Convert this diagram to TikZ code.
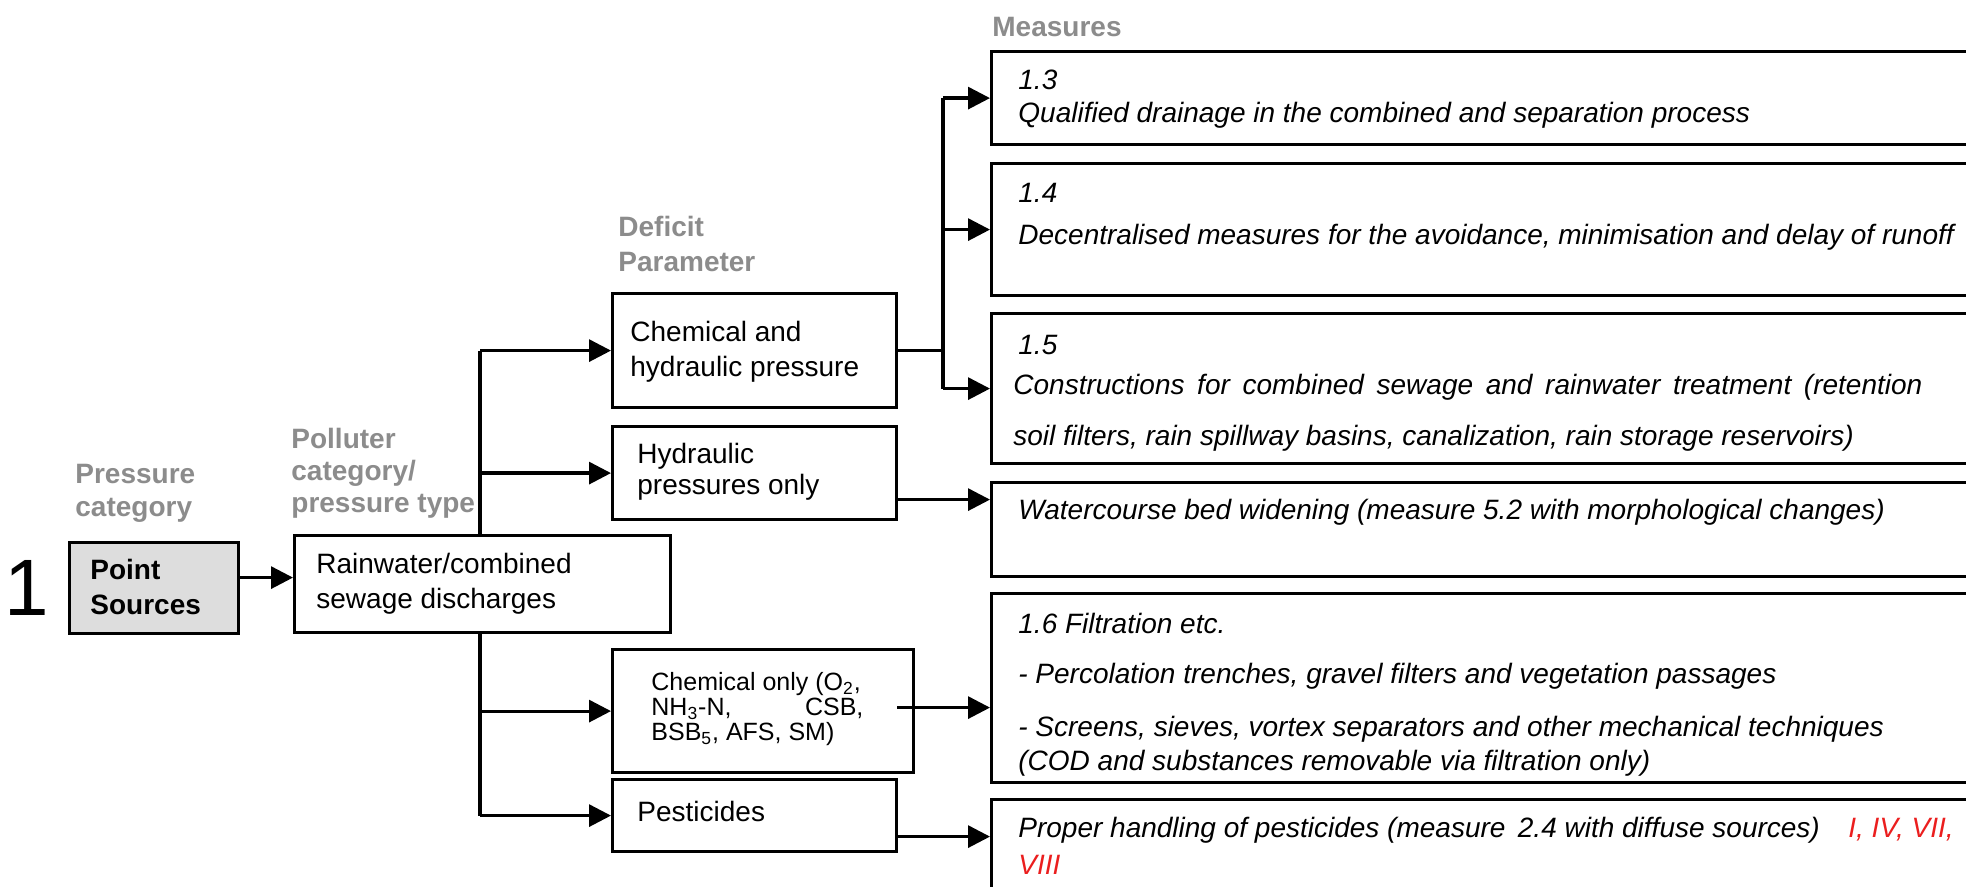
\documentclass[tikz,border=0pt]{standalone}
\usepackage{fontspec}
\setmainfont{Liberation Sans}
\usetikzlibrary{arrows.meta}
\definecolor{labelgray}{RGB}{140,140,140}
\definecolor{boxgray}{RGB}{221,221,221}
\definecolor{refred}{RGB}{235,30,30}
\begin{document}
\begin{tikzpicture}[x=0.5pt, y=-0.5pt,
  box/.style n args={2}{draw, line width=1.6pt, fill=white, anchor=north west,
    inner sep=0pt, minimum width=#1*0.5pt, minimum height=#2*0.5pt},
  txt/.style={anchor=west, inner sep=0pt, align=left, font=\fontsize{14}{17.5}\selectfont},
  mtxt/.style={txt, font=\fontsize{14}{17.5}\selectfont\itshape},
  head/.style={txt, text=labelgray, font=\fontsize{14}{16.5}\selectfont\bfseries},
  link/.style={line width=1.6pt},
  arr/.style={link, -{Triangle[length=11pt, width=11pt]}},
]
% page
\fill[white] (0,0) rectangle (1966,887);
\clip (0,0) rectangle (1966,887);

% column headings
\node[head] (hpc) at (75,493) {Pressure\\category};
\node[head, font=\fontsize{14}{16}\selectfont\bfseries] (hpt) at (291,473) {Polluter\\category/\\pressure type};
\node[head, font=\fontsize{14}{17.5}\selectfont\bfseries] (hdp) at (618,244) {Deficit\\Parameter};
\node[head] (hms) at (992,27) {Measures};

% pressure category
\node[anchor=west, inner sep=0pt, font=\fontsize{40}{40}\selectfont] (num) at (4,588) {1};
\node[box={169}{91}, fill=boxgray] (ps) at (68,541) {};
\node[txt, font=\fontsize{14}{17.5}\selectfont\bfseries] (pst) at (90,587) {Point\\Sources};

% polluter category
\node[box={376}{97}] (rw) at (293,534) {};
\node[txt] (rwt) at (316,584) {Rainwater/combined\\sewage discharges};

% deficit parameters
\node[box={284}{114}] (ch) at (611,292) {};
\node[txt] (cht) at (630,352) {Chemical and\\hydraulic pressure};
\node[box={284}{93}] (hy) at (611,425) {};
\node[txt, font=\fontsize{14}{15.5}\selectfont] (hyt) at (637,472) {Hydraulic\\pressures only};
\node[box={301}{123}] (co) at (611,648) {};
\node[txt, font=\fontsize{12.5}{12.5}\selectfont] (cot) at (651,709)
  {Chemical only (O\textsubscript{2},\\\makebox[106pt][s]{NH\textsubscript{3}-N, CSB,}\\BSB\textsubscript{5}, AFS, SM)};
\node[box={284}{72}] (pe) at (611,778) {};
\node[txt] (pet) at (637,811) {Pesticides};

% measures
\node[box={990}{93}] (m13) at (990,50) {};
\node[mtxt] (m13a) at (1018,80) {1.3};
\node[mtxt] (m13b) at (1018,115) {Qualified drainage in the combined and separation process};

\node[box={990}{132}] (m14) at (990,162) {};
\node[mtxt] (m14a) at (1018,193) {1.4};
\node[mtxt] (m14b) at (1018,237) {Decentralised measures for the avoidance, minimisation and delay of runoff};

\node[box={990}{150}] (m15) at (990,312) {};
\node[mtxt] (m15a) at (1018,345) {1.5};
\node[mtxt] (m15b) at (1013,387) {\makebox[454.5pt][s]{Constructions for combined sewage and rainwater treatment (retention}};
\node[mtxt] (m15c) at (1013,438) {soil filters, rain spillway basins, canalization, rain storage reservoirs)};

\node[box={990}{94}] (mwc) at (990,481) {};
\node[mtxt] (mwct) at (1018,512) {Watercourse bed widening (measure 5.2 with morphological changes)};

\node[box={990}{189}] (m16) at (990,592) {};
\node[mtxt] (m16a) at (1018,623) {1.6 Filtration etc.};
\node[mtxt] (m16b) at (1018,676) {- Percolation trenches, gravel filters and vegetation passages};
\node[mtxt] (m16c) at (1018,729) {- Screens, sieves, vortex separators and other mechanical techniques};
\node[mtxt] (m16d) at (1018,763) {(COD and substances removable via filtration only)};

\node[box={990}{110}] (mpe) at (990,798) {};
\node[mtxt] (mpea) at (1018,830) {Proper handling of pesticides (measure\, 2.4 with diffuse sources)};
\node[mtxt, text=refred] (mpeb) at (1848,830) {I, IV, VII,};
\node[mtxt, text=refred] (mpec) at (1018,865) {VIII};

% connectors
\coordinate (trunk) at (480,0);
\coordinate (rail) at (943,0);

\draw[arr] ([yshift=5.25pt]ps.east) coordinate (pso) -- (pso -| rw.west);

\draw[link] (trunk |- rw.north) -- (trunk |- ch.west);
\draw[link] (trunk |- rw.south) -- (trunk |- pe.west);
\draw[arr] (trunk |- ch.west) -- (ch.west);
\draw[arr] (trunk |- hy.west) -- (hy.west);
\draw[arr] (trunk |- co.west) -- (co.west);
\draw[arr] (trunk |- pe.west) -- (pe.west);

\draw[link] (ch.east) -- (rail |- ch.east);
\draw[link] (rail |- m13.west) -- (rail |- m15.west);
\draw[arr] (rail |- m13.west) -- (m13.west);
\draw[arr] (rail |- m14.west) -- (m14.west);
\draw[arr] (rail |- m15.west) -- (m15.west);

\draw[arr] ([yshift=-13.25pt]hy.east) coordinate (hyo) -- (hyo -| mwc.west);
\draw[arr] ([xshift=-9pt, yshift=1.75pt]co.east) coordinate (coo) -- (coo -| m16.west);
\draw[arr] ([yshift=-10.5pt]pe.east) coordinate (peo) -- (peo -| mpe.west);
\end{tikzpicture}
\end{document}
